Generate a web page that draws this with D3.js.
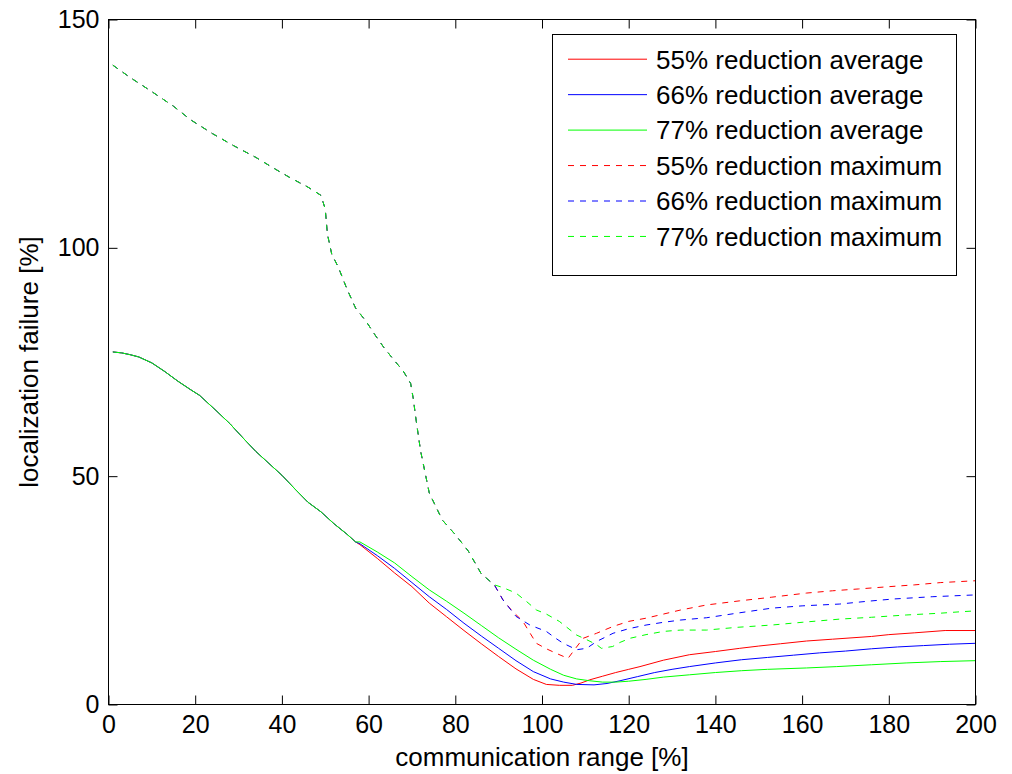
<!DOCTYPE html>
<html>
<head>
<meta charset="utf-8">
<script src="https://cdn.jsdelivr.net/npm/d3@7"></script>
<style>
  body { margin: 0; background: #fff; }
  text { font-family: Arial, 'Liberation Sans', sans-serif; }
</style>
</head>
<body>
<svg id="chart" width="1012" height="774"></svg>
<script>
// x ticks / y ticks
var xTicks = [0, 20, 40, 60, 80, 100, 120, 140, 160, 180, 200],
    yTicks = [0, 50, 100, 150];

var legendLabels = ['55% reduction average', '66% reduction average', '77% reduction average',
                    '55% reduction maximum', '66% reduction maximum', '77% reduction maximum'];

// average curves share the same start until ~58%
var avgCommon = [[1, 77.2], [3, 77], [5, 76.6], [7, 76.1], [10, 74.8], [13, 72.9], [16, 70.8], [19, 68.9],
                 [21, 67.7], [25, 64.2], [28, 61.5], [31, 58.4], [34, 55.4], [37, 52.8], [40, 50.2],
                 [43, 47.2], [46, 44.3], [49, 42.2], [52, 39.6], [55, 37.3], [57, 35.6]];

var avg55 = [[58, 35.0], [62, 32.0], [66, 28.8], [70, 25.8], [74, 22.2], [78, 19.2], [82, 16.2], [86, 13.3],
             [90, 10.5], [94, 7.8], [98, 5.5], [101, 4.4], [104, 4.2], [107, 4.2], [109, 4.7], [111, 5.4],
             [114, 6.2], [117, 7.0], [120, 7.7], [122.6, 8.3], [128, 9.7], [134, 10.9], [140, 11.6],
             [145.6, 12.3], [150, 12.8], [155, 13.3], [161, 13.9], [167, 14.3], [176, 14.9], [180, 15.3],
             [186, 15.7], [193, 16.2], [200, 16.2]];

var avg66 = [[58, 35.2], [62, 32.6], [66, 29.8], [70, 26.7], [74, 23.6], [78, 20.8], [82, 17.8], [86, 15.0],
             [90, 12.3], [94, 9.6], [98, 7.2], [102, 5.6], [105, 4.9], [108, 4.4], [112, 4.3], [115, 4.6],
             [118, 5.2], [122, 6.1], [126, 7.0], [130, 7.7], [134, 8.3], [140, 9.1], [146, 9.8], [152, 10.3],
             [158, 10.8], [164, 11.3], [170, 11.7], [176, 12.2], [182, 12.6], [188, 12.9], [194, 13.2], [200, 13.4]];

var avg77 = [[58, 35.6], [62, 33.4], [66, 31.0], [70, 28.0], [74, 25.1], [78, 22.6], [82, 20.0], [86, 17.3],
             [90, 14.6], [94, 12.1], [98, 9.7], [102, 7.7], [105, 6.4], [108, 5.6], [111, 5.2], [114, 4.9],
             [117, 4.9], [120, 5.1], [124, 5.5], [128, 6.0], [134, 6.5], [140, 7.0], [146, 7.4], [152, 7.7],
             [161, 8.0], [168, 8.3], [176, 8.7], [184, 9.1], [192, 9.4], [200, 9.6]];

// maximum curves share the same start until ~89%
var maxCommon = [[1, 140], [5, 137.3], [10, 134.2], [15, 131], [19, 128], [24, 125], [29, 122.3], [34, 119.8],
                 [38, 117.5], [42, 115.3], [46, 113.3], [49, 111.5], [50, 108.5], [50.5, 103], [51.5, 98.6],
                 [53, 95.8], [55, 91], [57, 86.8], [59.5, 83.8], [61.5, 80.9], [63.5, 78.2], [65.7, 75.6],
                 [68, 73], [69.7, 70.3], [70.3, 67], [71, 62], [72, 55.5], [74, 46.3], [77, 40.4], [80, 37.2],
                 [83, 33.6], [86, 28.6], [89, 26.2]];

var max55 = [[91, 22.9], [93, 20.6], [95.6, 18.2], [97, 16.0], [98.7, 13.4], [101, 12.2], [103.3, 11.2],
             [106, 10.1], [107.5, 12], [109.5, 14.5], [112.6, 15.6], [116.4, 17.1], [120, 18.2], [124, 18.9],
             [128, 19.8], [132, 20.7], [138, 21.8], [145.6, 22.7], [153, 23.5], [161, 24.4], [167, 24.9],
             [173, 25.3], [180, 25.8], [186, 26.2], [192, 26.7], [200, 27.1]];

var max66 = [[91, 22.9], [94, 19.3], [97.2, 17.4], [101, 16.0], [103, 14.6], [104.9, 13.4], [108, 12.0],
             [110.3, 12.3], [112.6, 13.8], [116.4, 15.6], [120, 16.6], [124, 17.4], [128, 18.0], [132, 18.5],
             [138, 19.0], [145, 20.0], [153, 21.1], [160, 21.6], [168.7, 22.0], [175, 22.6], [181, 23.1],
             [190, 23.6], [200, 24.0]];

var max77 = [[91, 25.6], [94, 24.4], [96.5, 22.5], [98.7, 20.7], [101, 19.8], [104, 18.2], [106, 16.7],
             [108, 15.2], [110.3, 14.2], [112.6, 13.1], [113.7, 12.3], [116.3, 12.7], [118, 13.6], [120.3, 14.5],
             [124, 15.3], [128, 16.0], [132, 16.3], [138, 16.3], [145, 16.9], [153, 17.4], [160, 18.0],
             [168.7, 18.7], [176, 19.1], [184, 19.6], [192, 20.0], [196.4, 20.3], [200, 20.5]];

var colors = ['#ff0000', '#0000ff', '#00ff00'];

var svg = d3.select('#chart'),
    plotLeft = 108.5,
    plotRight = 975.5,
    plotTop = 19.5,
    plotBottom = 704.5,
    tick = 9,
    tickFont = 25,
    labelFont = 26;

var x = d3.scaleLinear().domain([0, 200]).range([plotLeft, plotRight]),
    y = d3.scaleLinear().domain([0, 150]).range([plotBottom, plotTop]);

svg.append('rect').attr('width', 1012).attr('height', 774).attr('fill', '#fff');

// series in matlab plot order
var series = [
  { data: avgCommon.concat(avg55), color: colors[0], dash: null },
  { data: avgCommon.concat(avg66), color: colors[1], dash: null },
  { data: avgCommon.concat(avg77), color: colors[2], dash: null },
  { data: maxCommon.concat(max55), color: colors[0], dash: '6,6' },
  { data: maxCommon.concat(max66), color: colors[1], dash: '6,6' },
  { data: maxCommon.concat(max77), color: colors[2], dash: '6,6' }
];

var line = d3.line()
             .x(function(d) { return x(d[0]); })
             .y(function(d) { return y(d[1]); });

svg.append('g')
   .selectAll('path')
   .data(series)
   .enter()
   .append('path')
     .attr('d', function(d) { return line(d.data); })
     .attr('fill', 'none')
     .attr('stroke', function(d) { return d.color; })
     .attr('stroke-width', 1)
     .attr('stroke-dasharray', function(d) { return d.dash; });

// Axes (ticks point inward on all four sides)
function styleAxis(g) {
  g.select('.domain').remove();
  g.selectAll('line').attr('stroke', '#000');
  g.selectAll('text')
   .attr('fill', '#000')
   .style('font-size', tickFont + 'px');
}

svg.append('g')
   .attr('transform', 'translate(0,' + plotBottom + ')')
   .call(d3.axisBottom(x).tickValues(xTicks).tickSizeInner(-tick).tickSizeOuter(0).tickPadding(11))
   .call(styleAxis);

svg.append('g')
   .attr('transform', 'translate(0,' + plotTop + ')')
   .call(d3.axisTop(x).tickValues(xTicks).tickSizeInner(-tick).tickSizeOuter(0).tickFormat(''))
   .call(styleAxis);

svg.append('g')
   .attr('transform', 'translate(' + plotLeft + ',0)')
   .call(d3.axisLeft(y).tickValues(yTicks).tickSizeInner(-tick).tickSizeOuter(0).tickPadding(9))
   .call(styleAxis);

svg.append('g')
   .attr('transform', 'translate(' + plotRight + ',0)')
   .call(d3.axisRight(y).tickValues(yTicks).tickSizeInner(-tick).tickSizeOuter(0).tickFormat(''))
   .call(styleAxis);

svg.append('rect')
   .attr('x', plotLeft)
   .attr('y', plotTop)
   .attr('width', plotRight - plotLeft)
   .attr('height', plotBottom - plotTop)
   .attr('fill', 'none')
   .attr('stroke', '#000');

// Axis labels
svg.append('text')
   .attr('x', (plotLeft + plotRight) / 2)
   .attr('y', 766)
   .attr('text-anchor', 'middle')
   .style('font-size', labelFont + 'px')
   .text('communication range [%]');

svg.append('text')
   .attr('transform', 'translate(38,' + (plotTop + plotBottom) / 2 + ') rotate(-90)')
   .attr('text-anchor', 'middle')
   .style('font-size', labelFont + 'px')
   .text('localization failure [%]');

// Legend
var legend = svg.append('g');
legend.append('rect')
      .attr('x', 552.5)
      .attr('y', 34.5)
      .attr('width', 404)
      .attr('height', 241)
      .attr('fill', '#fff')
      .attr('stroke', '#000');

var legendRow = legend.selectAll('.legendRow')
                      .data(series)
                      .enter()
                      .append('g')
                        .attr('class', 'legendRow')
                        .attr('transform', function(d, i) { return 'translate(0,' + (59.2 + i * 35.45) + ')'; });

legendRow.append('line')
         .attr('x1', 568)
         .attr('x2', 647)
         .attr('stroke', function(d) { return d.color; })
         .attr('stroke-width', 1)
         .attr('stroke-dasharray', function(d) { return d.dash; });

legendRow.append('text')
         .attr('x', 656)
         .attr('dy', '0.36em')
         .style('font-size', labelFont + 'px')
         .text(function(d, i) { return legendLabels[i]; });
</script>
</body>
</html>
